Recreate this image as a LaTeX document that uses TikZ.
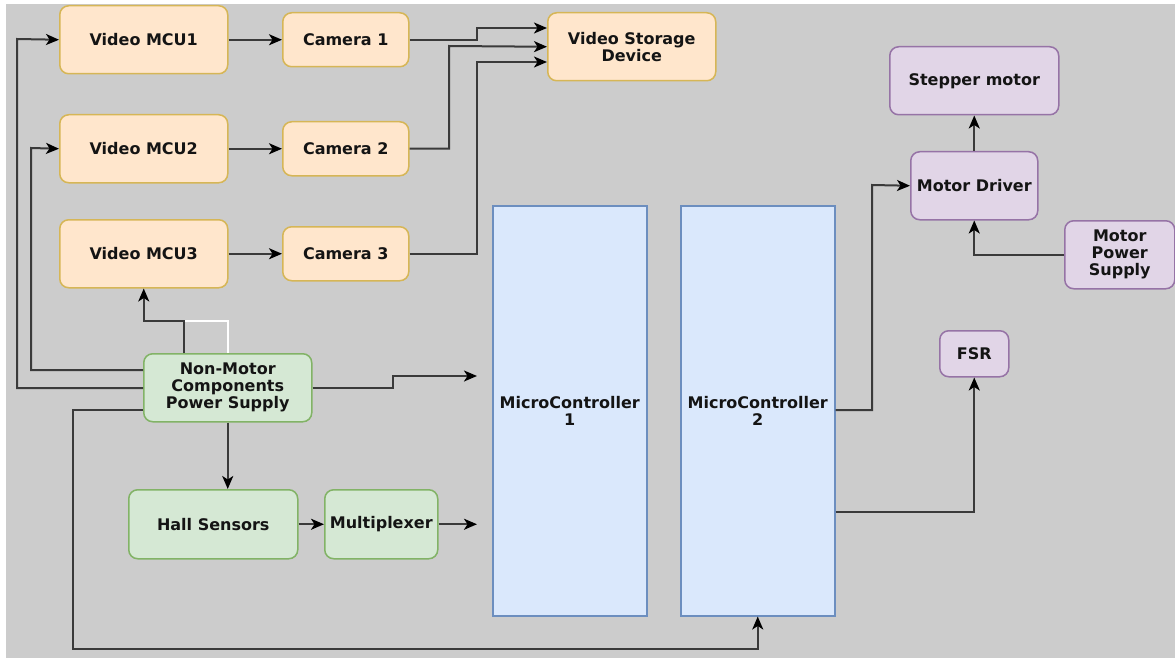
\documentclass[tikz,border=0pt]{standalone}
\usepackage{fontspec}
\setmainfont{DejaVu Sans}
\usetikzlibrary{arrows.meta}

\definecolor{canvas}{HTML}{CCCCCC}
\definecolor{orfill}{HTML}{FFE6CC}
\definecolor{ordraw}{HTML}{D6B656}
\definecolor{grfill}{HTML}{D5E8D4}
\definecolor{grdraw}{HTML}{82B366}
\definecolor{blfill}{HTML}{DAE8FC}
\definecolor{bldraw}{HTML}{6C8EBF}
\definecolor{pufill}{HTML}{E1D5E7}
\definecolor{pudraw}{HTML}{9673A6}
\definecolor{wire}{HTML}{3A3A3A}
\definecolor{ink}{HTML}{141414}

\tikzset{
  blk/.style={anchor=north west, inner sep=0pt, align=center, text=ink,
    font=\fontsize{16}{17}\selectfont\bfseries, line width=1.5pt},
  video/.style={blk, draw=ordraw, fill=orfill, rounded corners=9pt},
  power/.style={blk, draw=grdraw, fill=grfill, rounded corners=9pt},
  mcu/.style={blk, draw=bldraw, fill=blfill},
  motor/.style={blk, draw=pudraw, fill=pufill, rounded corners=9pt},
  conn/.style={draw=wire, line width=2pt,
    -{Stealth[length=13pt, width=11pt, inset=3.5pt, black]}},
  ghost/.style={draw=white, line width=1.5pt}
}

\begin{document}
\begin{tikzpicture}[x=1pt, y=-1pt]
% sheet
\fill[white] (0,0) rectangle (1175,658);
\fill[canvas] (6,4) rectangle (1175,658);
\useasboundingbox (0,0) rectangle (1175,658);

% video chain
\node[video, minimum width=168pt, minimum height=68pt] (mcu1) at (59,5) {Video MCU1};
\node[video, minimum width=168pt, minimum height=68pt] (mcu2) at (59,114) {Video MCU2};
\node[video, minimum width=168pt, minimum height=68pt] (mcu3) at (59,219) {Video MCU3};
\node[video, minimum width=126pt, minimum height=54pt] (cam1) at (282,12) {Camera 1};
\node[video, minimum width=126pt, minimum height=54pt] (cam2) at (282,121) {Camera 2};
\node[video, minimum width=126pt, minimum height=54pt] (cam3) at (282,226) {Camera 3};
\node[video, minimum width=168pt, minimum height=68pt] (vsd) at (547,12) {Video Storage\\Device};

% power and sensing
\node[power, minimum width=168pt, minimum height=68pt] (ps) at (143,353) {Non-Motor\\Components\\Power Supply};
\node[power, minimum width=169pt, minimum height=69pt] (hall) at (128,489) {Hall Sensors};
\node[power, minimum width=113pt, minimum height=69pt] (mux) at (324,489) {Multiplexer};

% controllers
\node[mcu, minimum width=154pt, minimum height=410pt] (mc1) at (492,205) {MicroController\\1};
\node[mcu, minimum width=154pt, minimum height=410pt] (mc2) at (680,205) {MicroController\\2};

% motor side
\node[motor, minimum width=169pt, minimum height=68pt] (step) at (889,46) {Stepper motor};
\node[motor, minimum width=127pt, minimum height=68pt] (md) at (910,151) {Motor Driver};
\node[motor, minimum width=110pt, minimum height=68pt] (mps) at (1064,220) {Motor\\Power\\Supply};
\node[motor, minimum width=69pt, minimum height=46pt] (fsr) at (939,330) {FSR};

% open ends in front of MicroController 1
\coordinate (mcinA) at (477,376);
\coordinate (mcinB) at (mux.east -| 477,0);

% video links
\draw[conn] (mcu1.east) -- (cam1.west);
\draw[conn] (mcu2.east) -- (cam2.west);
\draw[conn] (mcu3.east) -- (cam3.west);
\draw[conn] (cam1.east) -| (477,28) -- (vsd.west |- 0,28);
\draw[conn] (cam2.east) -| (449,46) -- (vsd.west);
\draw[conn] (cam3.east) -| (477,62) -- (vsd.west |- 0,62);

% power distribution
\draw[ghost] (ps.north) |- (184,321);
\draw[conn] (ps.north -| 184,0) |- (mcu3.south |- 0,321) -- (mcu3.south);
\draw[conn] (ps.west |- 0,388) -| (17,39) -- (mcu1.west);
\draw[conn] (ps.west |- 0,370) -| (31,148) -- (mcu2.west);
\draw[conn] (ps.east |- 0,388) -| (393,376) -- (mcinA);
\draw[conn] (ps.south) -- (hall.north -| ps.south);
\draw[conn] (ps.west |- 0,410) -| (73,649) -| (mc2.south);

% sensing
\draw[conn] (hall.east) -- (mux.west);
\draw[conn] (mux.east) -- (mcinB);

% motor control
\draw[conn] (mc2.east |- 0,410) -| (872,185) -- (md.west);
\draw[conn] (mc2.east |- 0,512) -| (fsr.south);
\draw[conn] (md.north) -- (step.south);
\draw[conn] (mps.west) -| (md.south);
\end{tikzpicture}
\end{document}
